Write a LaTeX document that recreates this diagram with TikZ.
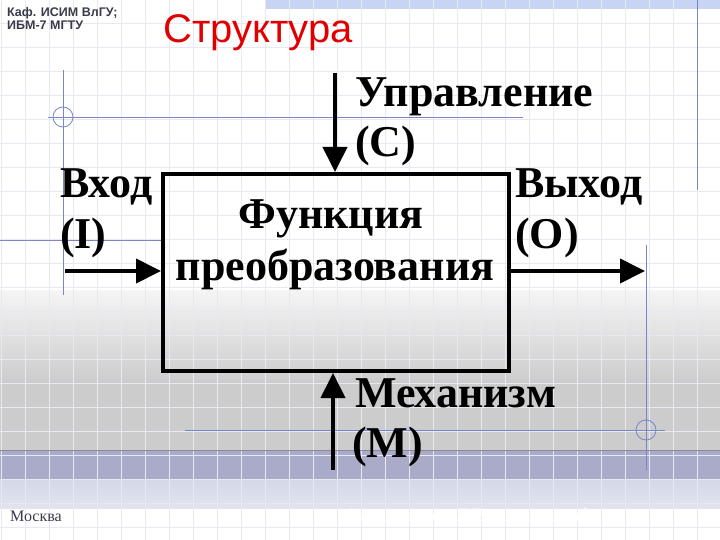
\documentclass[tikz,border=0pt]{standalone}
\usepackage{fontspec}
\setmainfont{Liberation Serif}
\setsansfont{Liberation Sans}
\usetikzlibrary{arrows.meta}

\definecolor{gridcol}{HTML}{E6E9F0}
\definecolor{decoblue}{HTML}{7A86C8}
\definecolor{titlered}{HTML}{E00000}
\definecolor{headgray}{HTML}{3A3A4A}
\definecolor{bandblue}{HTML}{A9ABC8}
\definecolor{bandlight}{HTML}{D4D8E8}
\definecolor{topband}{HTML}{C8D4F4}

\tikzset{
  lbl/.style={font=\fontsize{44}{50}\selectfont\bfseries, anchor=base west, inner sep=0pt},
  flow/.style={line width=4pt, -{Triangle[length=25pt,width=24pt]}},
  deco/.style={decoblue, line width=0.8pt},
}

\begin{document}
\begin{tikzpicture}[x=1pt,y=-1pt]
\useasboundingbox (0,0) rectangle (720,540);

% Hintergrund
\fill[white] (0,0) rectangle (720,540);
\fill[topband] (265,0) rectangle (720,9);
\fill[top color=gray!8, bottom color=gray!40] (0,290) rectangle (720,382);
\fill[gray!40] (0,382) rectangle (720,450);
\fill[bandblue] (0,450) rectangle (720,480);
\fill[top color=bandlight, bottom color=bandlight!70!white] (0,480) rectangle (720,508);
\foreach \gx in {1,25,...,721}
  \draw[gridcol, line width=0.8pt] (\gx,0) -- (\gx,540);
\foreach \gy in {23,47,...,539}
  \draw[gridcol, line width=0.8pt] (0,\gy) -- (720,\gy);
\draw[bandblue!80!black, line width=1pt] (0,450) -- (720,450);

% Linien mit Kreisen
\draw[deco] (63,70) -- (63,295);
\draw[deco] (48,117) -- (523,117);
\draw[deco] (63,117) circle[radius=10];
\draw[deco] (0,240) -- (165,240);
\draw[deco] (697,0) -- (697,190);
\draw[deco] (646,245) -- (646,470);
\draw[deco] (185,430) -- (665,430);
\draw[deco] (646,430) circle[radius=10];

% Kopf
\node[font=\sffamily\bfseries\fontsize{12.5}{14}\selectfont, text=headgray, anchor=base west, inner sep=0pt] (dept1) at (7,17) {Каф. ИСИМ ВлГУ;};
\node[font=\sffamily\bfseries\fontsize{12.5}{14}\selectfont, text=headgray, anchor=base west, inner sep=0pt] (dept2) at (7,30) {ИБМ-7 МГТУ};
\node[font=\sffamily\fontsize{40}{44}\selectfont, text=titlered, anchor=base west, inner sep=0pt] (title) at (163,43) {Структура};

% Block
\node[draw, line width=4pt, minimum width=346pt, minimum height=197pt, inner sep=0pt, anchor=north west] (box) at (161,172) {};
\node[lbl, anchor=base] (fn1) at (331,229) {Функция};
\node[lbl, anchor=base] (fn2) at (335,280) {преобразования};

% Beschriftungen
\node[lbl] (ctrl1) at (355,107) {Управление};
\node[lbl] (ctrl2) at (355,157) {(C)};
\node[lbl] (in1) at (60,197) {Вход};
\node[lbl] (in2) at (60,248) {(I)};
\node[lbl] (out1) at (515,197) {Выход};
\node[lbl] (out2) at (515,248) {(O)};
\node[lbl] (mech1) at (355,407) {Механизм};
\node[lbl] (mech2) at (352,457) {(M)};

% Pfeile
\coordinate (ctrlS) at (335,73);
\coordinate (inS) at (65,271);
\coordinate (outE) at (645,271);
\coordinate (mechS) at (333,470);
\draw[flow] (ctrlS) -- (ctrlS |- box.north);
\draw[flow] (inS) -- (inS -| box.west);
\draw[flow] (box.east |- outE) -- (outE);
\draw[flow] (mechS) -- (mechS |- box.south);

% Fuss
\node[font=\fontsize{16}{18}\selectfont, text=headgray, anchor=base west, inner sep=0pt] (city) at (10,521) {Москва};
\node[font=\fontsize{19}{21}\selectfont, text=white, anchor=base west, inner sep=0pt] (author) at (345,521) {Александров Д.В., д.т.н., проф};

\end{tikzpicture}
\end{document}
